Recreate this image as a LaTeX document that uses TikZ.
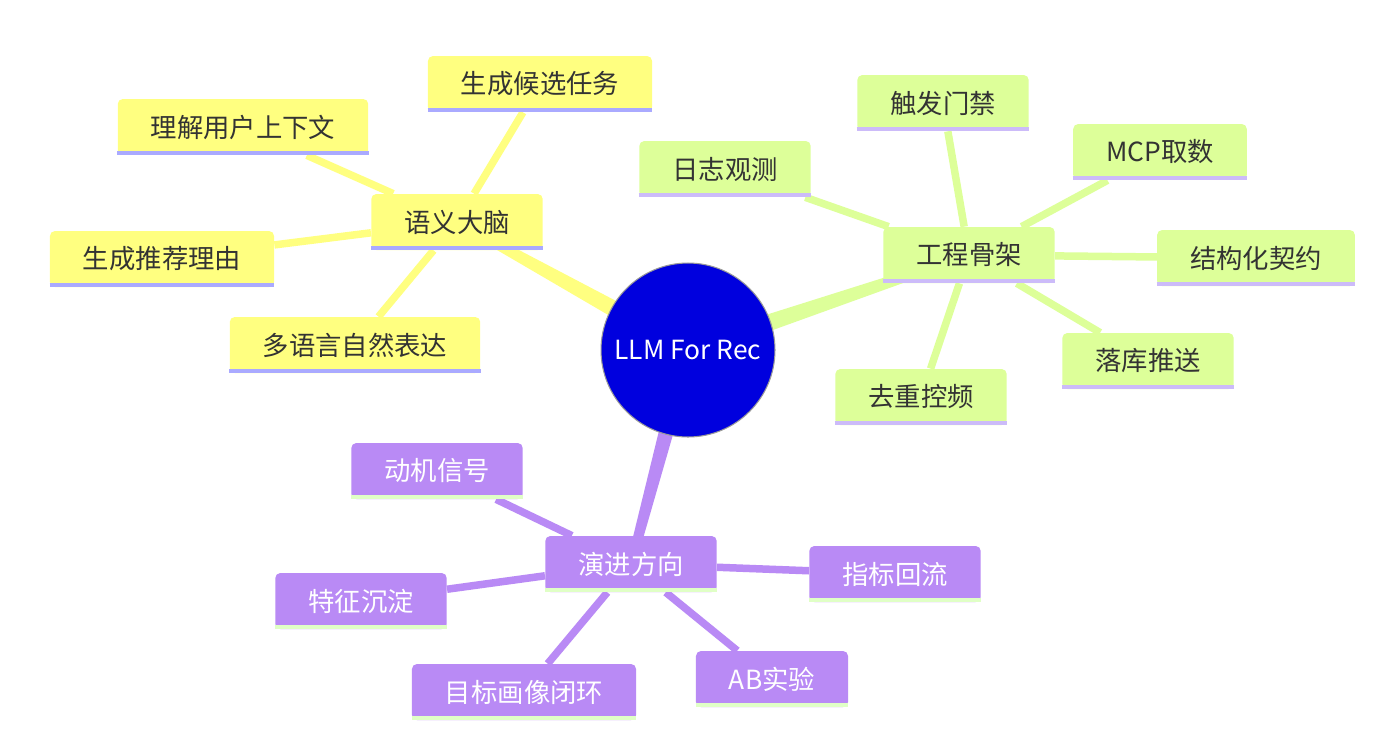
\documentclass[tikz,border=0pt]{standalone}
\usepackage{fontspec}
\setmainfont{Noto Sans CJK SC}
\usepackage{tikz}
\usetikzlibrary{calc,backgrounds}
\definecolor{hubblue}{HTML}{0000DE}
\definecolor{hubrim}{HTML}{9A9A9A}
\definecolor{brainfill}{HTML}{FFFF80}
\definecolor{brainline}{HTML}{AAAAFF}
\definecolor{framefill}{HTML}{DDFF99}
\definecolor{frameline}{HTML}{CCBBF9}
\definecolor{evofill}{HTML}{B98AF5}
\definecolor{evoline}{HTML}{E0FFC6}
\definecolor{ink}{HTML}{333333}
\tikzset{
  % knutar
  hub/.style={circle,draw=hubrim,fill=hubblue,line width=0.6pt,text=white,
              minimum size=3.48cm,inner sep=0pt},
  box/.style 2 args={rectangle,rounded corners=0.1cm,fill=#1,inner xsep=0.66cm,
              inner ysep=0pt,minimum height=1.12cm,
              append after command={([yshift=0.04cm]\tikzlastnode.south west)
                edge[draw=#2,line width=0.08cm,rounded corners=0pt]
                ([yshift=0.04cm]\tikzlastnode.south east)}},
  yb/.style={box={brainfill}{brainline},text=ink},
  gb/.style={box={framefill}{frameline},text=ink},
  pb/.style={box={evofill}{evoline},text=white},
  % kanter
  ye/.style={draw=brainfill,line width=0.15cm},
  ge/.style={draw=framefill,line width=0.15cm},
  pe/.style={draw=evofill,line width=0.15cm},
}
\begin{document}
\begin{tikzpicture}[x=0.02cm,y=-0.02cm,every node/.append style={font=\fontsize{15}{18}\selectfont}]
  \useasboundingbox (0,0) rectangle (1388,734);
  \node[hub] (llm) at (688,350) {LLM For Rec};
  % semantik
  \node[yb] (brain) at (457,222) {语义大脑};
  \node[yb] (cand)  at (540,84)  {生成候选任务};
  \node[yb] (ctx)   at (243,127) {理解用户上下文};
  \node[yb] (why)   at (162,259) {生成推荐理由};
  \node[yb] (lang)  at (355,345) {多语言自然表达};
  % ingenjörskap
  \node[gb] (frame) at (969,255)  {工程骨架};
  \node[gb] (gate)  at (943,103)  {触发门禁};
  \node[gb] (logs)  at (725,169)  {日志观测};
  \node[gb] (mcp)   at (1160,152) {MCP取数};
  \node[gb] (spec)  at (1256,258) {结构化契约};
  \node[gb] (push)  at (1148,361) {落库推送};
  \node[gb] (dedup) at (921,397)  {去重控频};
  % utveckling
  \node[pb] (evo)   at (631,564) {演进方向};
  \node[pb] (sig)   at (437,471) {动机信号};
  \node[pb] (feat)  at (361,601) {特征沉淀};
  \node[pb] (loop)  at (524,692) {目标画像闭环};
  \node[pb] (ab)    at (772,679) {AB实验};
  \node[pb] (flow)  at (895,574) {指标回流};
  \begin{scope}[on background layer]
  \fill[white] (0,0) rectangle (1388,734);
  \fill[brainfill] ($(llm)!0.2cm!90:(brain)$) -- ($(brain)!0.08cm!-90:(llm)$)
    -- ($(brain)!0.08cm!90:(llm)$) -- ($(llm)!0.2cm!-90:(brain)$) -- cycle;
  \fill[framefill] ($(llm)!0.2cm!90:(frame)$) -- ($(frame)!0.08cm!-90:(llm)$)
    -- ($(frame)!0.08cm!90:(llm)$) -- ($(llm)!0.2cm!-90:(frame)$) -- cycle;
  \fill[evofill] ($(llm)!0.18cm!90:(evo)$) -- ($(evo)!0.09cm!-90:(llm)$)
    -- ($(evo)!0.09cm!90:(llm)$) -- ($(llm)!0.18cm!-90:(evo)$) -- cycle;
  \draw[ye] (brain) -- (cand);
  \draw[ye] (brain) -- (ctx);
  \draw[ye] (brain) -- (why);
  \draw[ye] (brain) -- (lang);
  \draw[ge] (frame) -- (gate);
  \draw[ge] (frame) -- (logs);
  \draw[ge] (frame) -- (mcp);
  \draw[ge] (frame) -- (spec);
  \draw[ge] (frame) -- (push);
  \draw[ge] (frame) -- (dedup);
  \draw[pe] (evo) -- (sig);
  \draw[pe] (evo) -- (feat);
  \draw[pe] (evo) -- (loop);
  \draw[pe] (evo) -- (ab);
  \draw[pe] (evo) -- (flow);
  \end{scope}
\end{tikzpicture}
\end{document}
